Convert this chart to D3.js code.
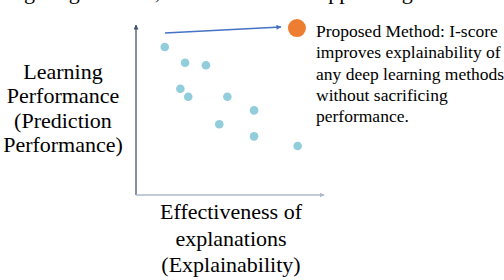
<!DOCTYPE html>
<html><head><meta charset="utf-8">
<script src="https://cdn.jsdelivr.net/npm/d3@7"></script>
<style>body{margin:0;background:#fff}svg{display:block}</style>
</head><body><svg id="c" width="504" height="280"></svg>
<script>
// existing methods: explainability (x) vs performance (y)
const methodX = [15.3, 26.1, 37.2, 23.6, 27.8, 48.6, 62.8, 44.3, 62.8, 86.0];
const methodY = [87.1, 77.8, 76.3, 62.5, 57.8, 57.8, 49.8, 41.6, 34.5, 28.8];
const proposed = [85.6, 98.2];
const arrowFrom = [15.4, 95.3];
const arrowTo = [77.1, 98.8];
const yLabel = ["Learning", "Performance", "(Prediction", "Performance)"];
const xLabel = ["Effectiveness of", "explanations", "(Explainability)"];
const note = ["Proposed Method: I-score", "improves explainability of", "any deep learning methods", "without sacrificing", "performance."];
const topLine = "ning long features, and then the tool appointing the best of all";

const FONT = "'Liberation Serif', 'Times New Roman', serif";
const svg = d3.select("#c");
const x = d3.scaleLinear().domain([0, 100]).range([136, 324]);
const y = d3.scaleLinear().domain([0, 100]).range([195, 25]);

const defs = svg.append("defs");
function mk(id, col, w, h) {
  defs.append("marker").attr("id", id).attr("viewBox", "0 0 10 10").attr("refX", 9).attr("refY", 5)
    .attr("markerWidth", w).attr("markerHeight", h).attr("orient", "auto").attr("markerUnits", "userSpaceOnUse")
    .append("path").attr("d", "M0,0L10,5L0,10z").attr("fill", col);
}
mk("ay", "#44546A", 5, 5);
mk("ax", "#ADB9CA", 5, 5);
mk("ab", "#4472C4", 7, 5);

// top line of text, cropped by the picture's top edge (only descenders show)
svg.append("text").attr("font-family", FONT).attr("x", -4).attr("y", -1.3).attr("font-size", 22).text(topLine);

// axes
svg.append("line").attr("x1", x(0)).attr("y1", y(0)).attr("x2", x(0)).attr("y2", y(100))
  .attr("stroke", "#44546A").attr("stroke-width", 1.3).attr("marker-end", "url(#ay)");
svg.append("line").attr("x1", x(0)).attr("y1", y(0)).attr("x2", x(100)).attr("y2", y(0))
  .attr("stroke", "#ADB9CA").attr("stroke-width", 1.3).attr("marker-end", "url(#ax)");

// points
svg.append("g").selectAll("circle").data(methodX).join("circle")
  .attr("cx", d => x(d)).attr("cy", (d, i) => y(methodY[i])).attr("r", 4.3).attr("fill", "#92CDDC");

// arrow
svg.append("line").attr("x1", x(arrowFrom[0])).attr("y1", y(arrowFrom[1]))
  .attr("x2", x(arrowTo[0])).attr("y2", y(arrowTo[1]))
  .attr("stroke", "#4472C4").attr("stroke-width", 1.5).attr("marker-end", "url(#ab)");

// proposed
svg.append("circle").attr("cx", x(proposed[0])).attr("cy", y(proposed[1])).attr("r", 9).attr("fill", "#ED7D31");

// labels
svg.append("text").attr("font-family", FONT).attr("text-anchor", "middle").attr("font-size", 22)
  .selectAll("tspan").data(yLabel).join("tspan").attr("x", 63).attr("y", (d, i) => 79 + i * 24.3).text(d => d);
svg.append("text").attr("font-family", FONT).attr("text-anchor", "middle").attr("font-size", 22)
  .selectAll("tspan").data(xLabel).join("tspan").attr("x", 231).attr("y", (d, i) => 219 + i * 26.5).text(d => d);
svg.append("text").attr("font-family", FONT).attr("font-size", 17.5)
  .selectAll("tspan").data(note).join("tspan").attr("x", 316).attr("y", (d, i) => 37 + i * 21.3).text(d => d);
</script></body></html>
